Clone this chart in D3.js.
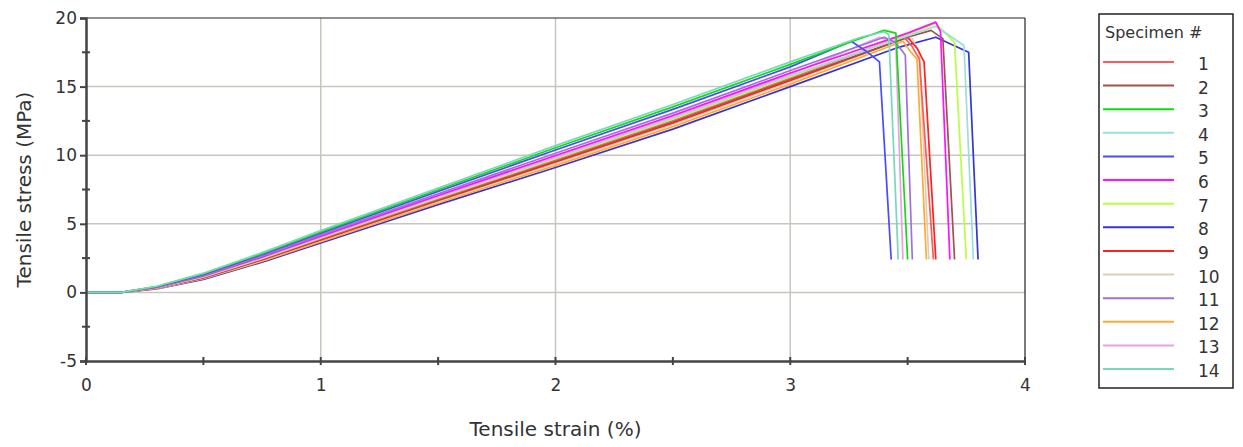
<!DOCTYPE html>
<html><head><meta charset="utf-8">
<script src="https://cdn.jsdelivr.net/npm/d3@7/dist/d3.min.js"></script>
<style>body{margin:0;background:#fff;} svg{display:block;}</style>
</head><body>
<svg id="chart" width="1243" height="447"></svg>
<script>
// ---- data ----
const specimenIds = ["1","2","3","4","5","6","7","8","9","10","11","12","13","14"];
const specimenColors = ["#ff5a5a","#a05050","#10dd10","#9adede","#4a4aff","#ff10ff","#b8ff40","#3434d8","#ff2020","#e0cdb8","#a070e0","#ffaa30","#e8a0e8","#78d8b8"];
const strainGrid = [0, 0.15, 0.3, 0.5, 0.75, 1, 1.5, 2, 2.5, 3];
const stressGrid = [
  [0,0,0.32,1.11,2.45,3.92,6.82,9.66,12.53,15.63],
  [0,0,0.31,1.09,2.41,3.87,6.76,9.58,12.44,15.54],
  [0,0,0.43,1.36,2.83,4.41,7.48,10.54,13.52,16.62],
  [0,0,0.34,1.15,2.52,4.01,6.94,9.82,12.71,15.81],
  [0,0,0.41,1.31,2.76,4.32,7.36,10.38,13.34,16.44],
  [0,0,0.36,1.20,2.59,4.10,7.06,9.98,12.89,15.99],
  [0,0,0.33,1.13,2.48,3.96,6.88,9.74,12.62,15.72],
  [0,0,0.25,0.95,2.20,3.60,6.40,9.10,11.90,15.00],
  [0,0,0.30,1.06,2.38,3.83,6.70,9.50,12.35,15.45],
  [0,0,0.29,1.04,2.34,3.78,6.64,9.42,12.26,15.36],
  [0,0,0.38,1.24,2.66,4.19,7.18,10.14,13.07,16.17],
  [0,0,0.27,1.00,2.27,3.69,6.52,9.26,12.08,15.18],
  [0,0,0.35,1.18,2.55,4.05,7.00,9.90,12.80,15.90],
  [0,0,0.45,1.40,2.90,4.50,7.60,10.70,13.70,16.80]
];
const tailStrain = [
  [3.48,3.52,3.55,3.61],
  [3.50,3.60,3.65,3.70],
  [3.28,3.40,3.45,3.50],
  [3.50,3.62,3.74,3.78],
  [3.26,3.33,3.38,3.43],
  [3.50,3.62,3.64,3.68],
  [3.50,3.62,3.70,3.75],
  [3.45,3.62,3.76,3.80],
  [3.50,3.54,3.57,3.62],
  [3.47,3.52,3.55,3.59],
  [3.40,3.45,3.49,3.52],
  [3.48,3.51,3.54,3.58],
  [3.38,3.42,3.45,3.48],
  [3.30,3.40,3.42,3.46]
];
const tailStress = [
  [18.7,17.9,17.0,2.4],
  [18.6,19.1,18.5,2.4],
  [18.4,19.1,18.9,2.4],
  [18.7,19.4,18.0,2.4],
  [18.3,17.5,16.8,2.4],
  [18.9,19.7,19.0,2.4],
  [18.8,19.6,18.2,2.4],
  [17.8,18.6,17.5,2.4],
  [18.6,17.8,16.8,2.4],
  [18.4,18.5,17.5,2.4],
  [18.6,18.2,17.3,2.4],
  [18.3,17.6,17.0,2.4],
  [18.6,18.4,18.0,2.4],
  [18.6,19.0,18.8,2.4]
];
const xTicks = [0,1,2,3,4];
const yTicks = [-5,0,5,10,15,20];

// ---- layout ----
const svg = d3.select("#chart");
const L = 86, R = 1025, T = 18, B = 361;
const x = d3.scaleLinear().domain([0,4]).range([L,R]);
const y = d3.scaleLinear().domain([-5,20]).range([B,T]);
const font = "'DejaVu Sans', Verdana, sans-serif";
const fmt = d => String(d);

// gridlines
const grid = svg.append("g").attr("stroke","#c8c6bc").attr("stroke-width",1.5);
[1,2,3].forEach(v => grid.append("line").attr("x1",x(v)).attr("x2",x(v)).attr("y1",T).attr("y2",B));
[0,5,10,15].forEach(v => grid.append("line").attr("x1",L).attr("x2",R).attr("y1",y(v)).attr("y2",y(v)));

// frame top/right
svg.append("line").attr("x1",L).attr("x2",R).attr("y1",T).attr("y2",T).attr("stroke","#222").attr("stroke-width",1.2);
svg.append("line").attr("x1",R).attr("x2",R).attr("y1",T).attr("y2",B).attr("stroke","#222").attr("stroke-width",1.2);

// curves
const line = d3.line().x(d=>x(d[0])).y(d=>y(d[1]));
const curves = svg.append("g").attr("fill","none").attr("stroke-width",1.7).attr("stroke-linejoin","round");
const order = [7,11,9,8,1,0,6,3,12,5,10,4,2,13];
order.forEach(i => {
  const pts = strainGrid.map((s,k)=>[s, stressGrid[i][k]]).concat(tailStrain[i].map((s,k)=>[s, tailStress[i][k]]));
  curves.append("path").attr("d", line(pts)).attr("stroke", specimenColors[i]);
});

// axes
const axCol = "#444";
const yAxis = svg.append("g").attr("transform",`translate(${L},0)`)
  .call(d3.axisLeft(y).tickValues(yTicks).tickSize(6).tickPadding(3).tickFormat(fmt));
yAxis.select(".domain").attr("stroke",axCol).attr("stroke-width",2.5);
yAxis.selectAll(".tick line").attr("stroke",axCol).attr("stroke-width",2);
yAxis.selectAll(".tick text").attr("font-family",font).attr("font-size",17).attr("fill","#333");
[-2.5,2.5,7.5,12.5,17.5].forEach(v => svg.append("line").attr("x1",L-4).attr("x2",L+4).attr("y1",y(v)).attr("y2",y(v)).attr("stroke",axCol).attr("stroke-width",2));

const xAxis = svg.append("g").attr("transform",`translate(0,${B})`)
  .call(d3.axisBottom(x).tickValues(xTicks).tickSize(0).tickPadding(18).tickFormat(fmt));
xAxis.select(".domain").attr("stroke",axCol).attr("stroke-width",2.5);
xAxis.selectAll(".tick text").attr("font-family",font).attr("font-size",17).attr("fill","#333");
[0,0.5,1,1.5,2,2.5,3,3.5,4].forEach(v => svg.append("line").attr("x1",x(v)).attr("x2",x(v)).attr("y1",B-4).attr("y2",B+4).attr("stroke",axCol).attr("stroke-width",2));

// axis titles
svg.append("text").attr("x",(L+R)/2).attr("y",436).attr("text-anchor","middle")
  .attr("font-family",font).attr("font-size",20).attr("fill","#333").text("Tensile strain (%)");
svg.append("text").attr("transform",`translate(31,${(T+B)/2}) rotate(-90)`).attr("text-anchor","middle")
  .attr("font-family",font).attr("font-size",20).attr("fill","#333").text("Tensile stress (MPa)");

// legend
const lg = svg.append("g");
lg.append("rect").attr("x",1099).attr("y",14).attr("width",134).attr("height",374).attr("fill","#fff").attr("stroke","#222").attr("stroke-width",1.5);
lg.append("text").attr("x",1105).attr("y",38).attr("font-family",font).attr("font-size",16).attr("fill","#333").text("Specimen #");
const ly = d3.scaleLinear().domain([0,13]).range([62,369]);
specimenIds.forEach((id,i) => {
  lg.append("line").attr("x1",1103).attr("x2",1174).attr("y1",ly(i)).attr("y2",ly(i)).attr("stroke",specimenColors[i]).attr("stroke-width",2);
  lg.append("text").attr("x",1198).attr("y",ly(i)+8).attr("font-family",font).attr("font-size",17).attr("fill","#333").text(id);
});
</script>
</body></html>
